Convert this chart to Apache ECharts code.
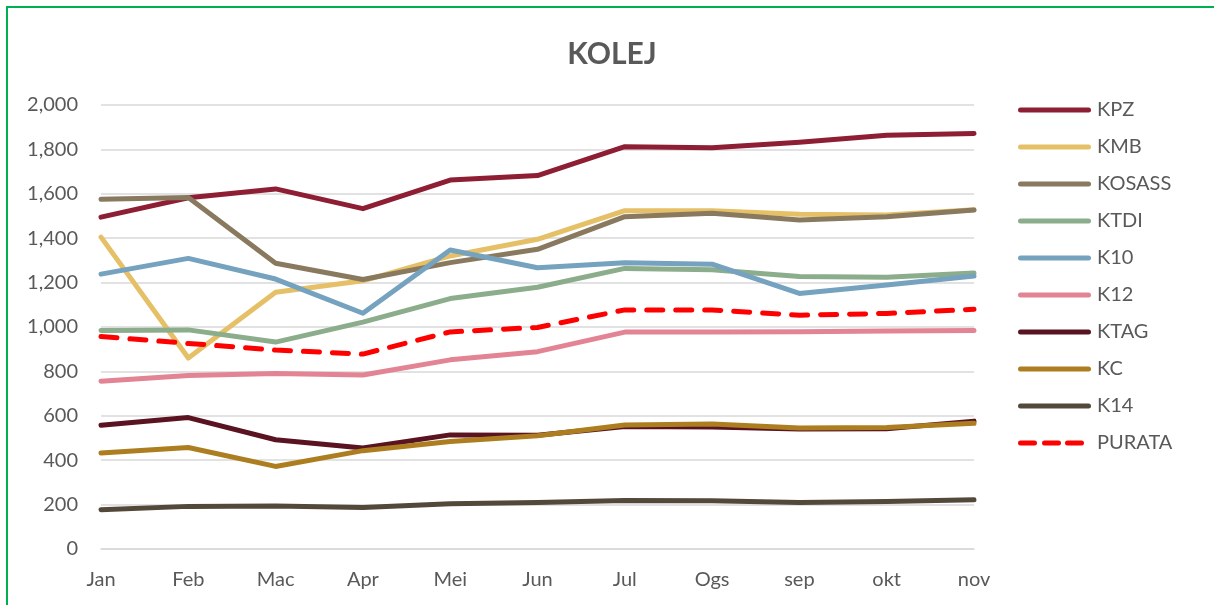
<!DOCTYPE html>
<html>
<head>
<meta charset="utf-8">
<script src="https://cdn.jsdelivr.net/npm/echarts@6/dist/echarts.min.js"></script>
<style>
  html, body { margin: 0; padding: 0; background: #fff; }
  #chart { width: 1214px; height: 605px; }
</style>
</head>
<body>
<div id="chart"></div>
<script>
const months = ['Jan', 'Feb', 'Mac', 'Apr', 'Mei', 'Jun', 'Jul', 'Ogs', 'sep', 'okt', 'nov'];
const yTicks = { min: 0, max: 2000, step: 200 };

const KPZ    = [1495, 1582, 1622, 1533, 1662, 1682, 1812, 1807, 1832, 1864, 1872];
const KMB    = [1405, 860, 1157, 1208, 1320, 1395, 1524, 1524, 1508, 1504, 1528];
const KOSASS = [1575, 1583, 1287, 1214, 1290, 1350, 1497, 1512, 1482, 1497, 1527];
const KTDI   = [984, 987, 932, 1022, 1128, 1179, 1264, 1258, 1228, 1224, 1243];
const K10    = [1238, 1309, 1216, 1062, 1347, 1267, 1289, 1283, 1151, 1189, 1230];
const K12    = [756, 781, 790, 784, 852, 889, 977, 977, 979, 982, 984];
const KTAG   = [557, 592, 492, 455, 514, 512, 552, 549, 540, 542, 576];
const KC     = [432, 457, 372, 443, 484, 510, 559, 563, 545, 547, 566];
const K14    = [177, 192, 194, 187, 204, 209, 219, 217, 210, 214, 222];
const PURATA = [957, 926, 896, 878, 978, 998, 1077, 1077, 1053, 1061, 1080];

const seriesDefs = [
  { name: 'KPZ', data: KPZ, color: '#8E1E33' },
  { name: 'KMB', data: KMB, color: '#E6C067' },
  { name: 'KOSASS', data: KOSASS, color: '#897A5F' },
  { name: 'KTDI', data: KTDI, color: '#8CAD8B' },
  { name: 'K10', data: K10, color: '#75A2BE' },
  { name: 'K12', data: K12, color: '#E38495' },
  { name: 'KTAG', data: KTAG, color: '#5A1320' },
  { name: 'KC', data: KC, color: '#AD7E20' },
  { name: 'K14', data: K14, color: '#52493A' },
  { name: 'PURATA', data: PURATA, color: '#FF0000', dashed: true }
];

const FONT = 'Lato';
const TXT = '#595959';

// legend icons: rounded bar, and three rounded dashes for the dashed series
const SOLID_ICON = 'path://M2.5,0 L70.5,0 A2.5,2.5 0 0 1 70.5,5 L2.5,5 A2.5,2.5 0 0 1 2.5,0 Z';
const DASH_ICON = 'path://M2.5,0 L16.5,0 A2.5,2.5 0 0 1 16.5,5 L2.5,5 A2.5,2.5 0 0 1 2.5,0 Z ' +
  'M26.5,0 L40.5,0 A2.5,2.5 0 0 1 40.5,5 L26.5,5 A2.5,2.5 0 0 1 26.5,0 Z ' +
  'M49.5,0 L63.5,0 A2.5,2.5 0 0 1 63.5,5 L49.5,5 A2.5,2.5 0 0 1 49.5,0 Z M73,0 L73,0.01 Z';

const chart = echarts.init(document.getElementById('chart'), null, { renderer: 'canvas' });
chart.setOption({
  backgroundColor: '#ffffff',
  animation: false,
  title: {
    text: 'KOLEJ',
    left: 607, top: 34, textAlign: 'center',
    textStyle: { fontFamily: FONT, fontWeight: 'bold', fontSize: 30, color: TXT }
  },
  graphic: [{
    type: 'polyline',
    shape: { points: [[7, 605], [7, 7], [1214, 7]] },
    style: { stroke: '#00B050', lineWidth: 2, fill: null }
  }],
  legend: {
    orient: 'vertical',
    left: 1018, top: 100, padding: 0,
    itemWidth: 73, itemHeight: 5, itemGap: 17,
    textStyle: { fontFamily: FONT, fontSize: 20, color: TXT, lineHeight: 20, padding: [0, 0, 0, 1] },
    data: seriesDefs.map(s => ({
      name: s.name,
      icon: s.dashed ? DASH_ICON : SOLID_ICON,
      itemStyle: { color: s.color, borderWidth: 0 }
    }))
  },
  grid: { left: 101, right: 240, top: 105, bottom: 56, containLabel: false },
  xAxis: {
    type: 'category',
    data: months,
    boundaryGap: false,
    axisLine: { show: true, lineStyle: { color: '#D9D9D9', width: 1.5 } },
    axisTick: { show: false },
    axisLabel: { fontFamily: FONT, fontSize: 20, color: TXT, margin: 21 },
    splitLine: { show: false }
  },
  yAxis: {
    type: 'value',
    min: yTicks.min, max: yTicks.max, interval: yTicks.step,
    axisLine: { show: false },
    axisTick: { show: false },
    axisLabel: {
      fontFamily: FONT, fontSize: 20, color: TXT, margin: 23,
      formatter: v => v.toLocaleString('en-US')
    },
    splitLine: { lineStyle: { color: '#D9D9D9', width: 1.5 } }
  },
  series: seriesDefs.map(s => ({
    name: s.name,
    type: 'line',
    data: s.data,
    symbol: 'none',
    color: s.color,
    lineStyle: {
      color: s.color, width: 5, cap: 'round', join: 'round',
      type: s.dashed ? [16, 13] : 'solid'
    }
  }))
});
</script>
</body>
</html>
